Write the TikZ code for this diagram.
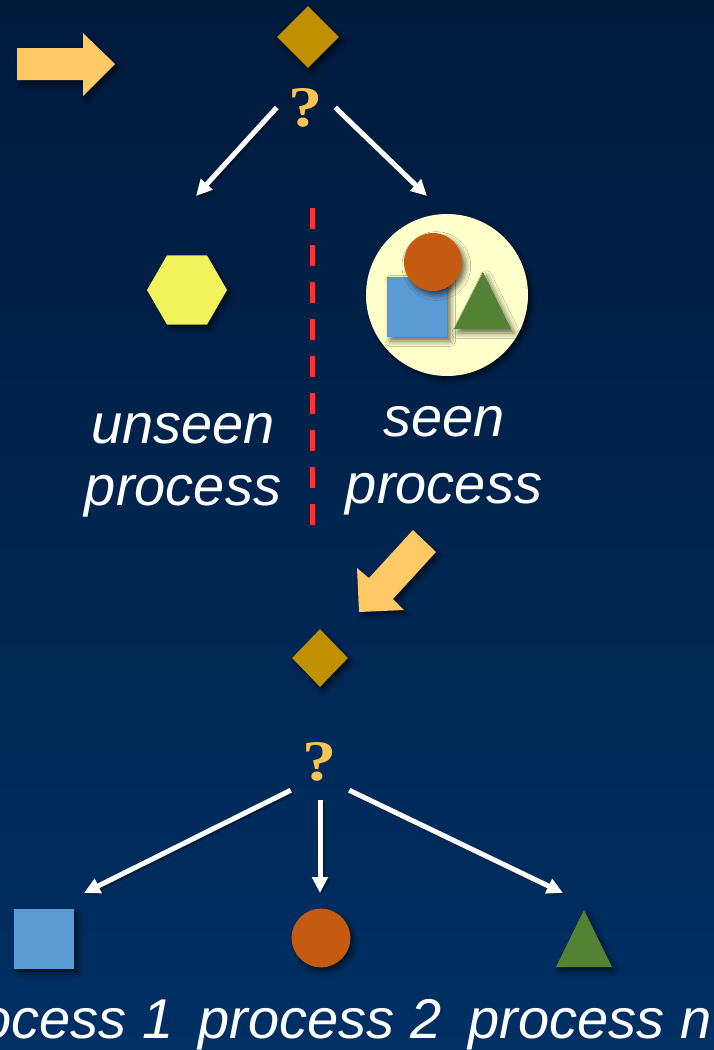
\documentclass[tikz,border=0pt]{standalone}
\usepackage{fontspec}
\usepackage{graphicx}
\newfontfamily\lblfont{Liberation Sans}
\newfontfamily\qfont{Liberation Serif}
\usetikzlibrary{shapes.geometric,arrows.meta,shadows.blur}
\definecolor{bgtop}{RGB}{0,26,60}
\definecolor{bgmid}{RGB}{0,40,84}
\definecolor{bgbot}{RGB}{0,48,100}
\definecolor{gold}{RGB}{192,144,0}
\definecolor{sunny}{RGB}{255,201,102}
\definecolor{qmark}{RGB}{250,195,85}
\definecolor{lemon}{RGB}{242,242,90}
\definecolor{cream}{RGB}{255,255,204}
\definecolor{rust}{RGB}{197,90,17}
\definecolor{sky}{RGB}{91,155,213}
\definecolor{leaf}{RGB}{84,130,53}
\definecolor{divred}{RGB}{255,51,51}
\newcommand{\qglyph}{\scalebox{1.25}[1.05]{?}}
\begin{document}
\begin{tikzpicture}[x=0.75pt,y=-0.75pt,
  shd/.style={blur shadow={shadow xshift=2.5pt,shadow yshift=-3pt,shadow blur radius=4pt,shadow opacity=60}},
  choice/.style={diamond,fill=gold,inner sep=0pt,shd},
  query/.style={font=\qfont\bfseries\fontsize{41pt}{41pt}\selectfont,text=qmark,inner sep=0pt,minimum width=43.5pt},
  lbl/.style={font=\lblfont\itshape\fontsize{42pt}{50pt}\selectfont,text=white,inner sep=0pt,anchor=base},
  link/.style={draw=white,line width=3.75pt,-{Triangle[length=12pt,width=11.5pt]}},
  linkshadow/.style={draw=black,draw opacity=0.3,fill opacity=0.3,line width=3.75pt,
    -{Triangle[length=12pt,width=11.5pt]},transform canvas={xshift=1.5pt,yshift=-1.5pt}},
  bigarrow/.style={fill=sunny,shd},
  plainshape/.style={inner sep=0pt,shd}
]
% backdrop
\path[use as bounding box] (0,0) rectangle (714,1050);
\shade[top color=bgtop,middle color=bgmid,bottom color=bgbot] (0,0) rectangle (714,1050);

% entry arrow
\path[bigarrow] (17,48) -- (83,48) -- (83,33) -- (115,64) -- (83,96) -- (83,80) -- (17,80) -- cycle;

% first decision
\node[choice,minimum width=46.5pt,minimum height=46.5pt] (d1) at (308,37) {};
\node[query,minimum height=30pt] (q1) at (306,107.5) {\qglyph};

% unseen process
\node[regular polygon,regular polygon sides=6,minimum size=60pt,inner sep=0pt,fill=lemon,shd] (hex) at (187,290) {};
\node[lbl] (unseenA) at (183,443) {unseen};
\node[lbl] (unseenB) at (183,505) {process};

% seen process
\node[circle,fill=cream,minimum size=121.5pt,inner sep=0pt,shd] (seen) at (447,295) {};
\node[rectangle,fill=sky,minimum size=45pt,plainshape] (seensq) at (417,307) {};
\node[circle,fill=rust,minimum size=43.5pt,plainshape] (seenci) at (433,262) {};
\path[fill=leaf,shd] (483,272) -- (511,329) -- (454,329) -- cycle;
\node[lbl] (seenA) at (444,436) {seen};
\node[lbl] (seenB) at (444,503) {process};

% divider
\coordinate (divtop) at (312,208);
\coordinate (divbot) at (312,528);
\draw[divred,line width=3.75pt,dash pattern=on 15.75pt off 12pt] (divtop) -- (divbot);

% arrow down to the second decision
\path[bigarrow] (413,530) -- (436,552) -- (393,599) -- (404,610) -- (359,612) -- (357,568) -- (369,578) -- cycle;

% second decision
\node[choice,minimum width=42pt,minimum height=43.5pt] (d2) at (320,658) {};
\node[query,minimum height=42pt] (q2) at (320,762) {\qglyph};

% processes
\node[rectangle,fill=sky,minimum size=45pt,plainshape] (p1) at (44,939) {};
\node[circle,fill=rust,minimum size=44pt,plainshape] (p2) at (321,938) {};
\path[fill=leaf,shd] (584,910) -- (612,967) -- (556,967) -- cycle;
\node[lbl] (l1) at (52,1038) {process 1};
\node[lbl] (l2) at (320,1038) {process 2};
\node[lbl] (ln) at (590,1038) {process n};

% branch arrows
\coordinate (e1) at (196,196);
\coordinate (e2) at (427,196);
\coordinate (f1) at (84,893);
\coordinate (f2) at (320,893);
\coordinate (f3) at (563,893);
\foreach \s/\t/\sh in {q1.west/e1/0pt, q1.east/e2/0pt, q2.south west/f1/0pt, q2.south/f2/7.5pt, q2.south east/f3/0pt}{
  \draw[linkshadow,shorten <=\sh] (\s) -- (\t);
  \draw[link,shorten <=\sh] (\s) -- (\t);
}
\end{tikzpicture}
\end{document}
